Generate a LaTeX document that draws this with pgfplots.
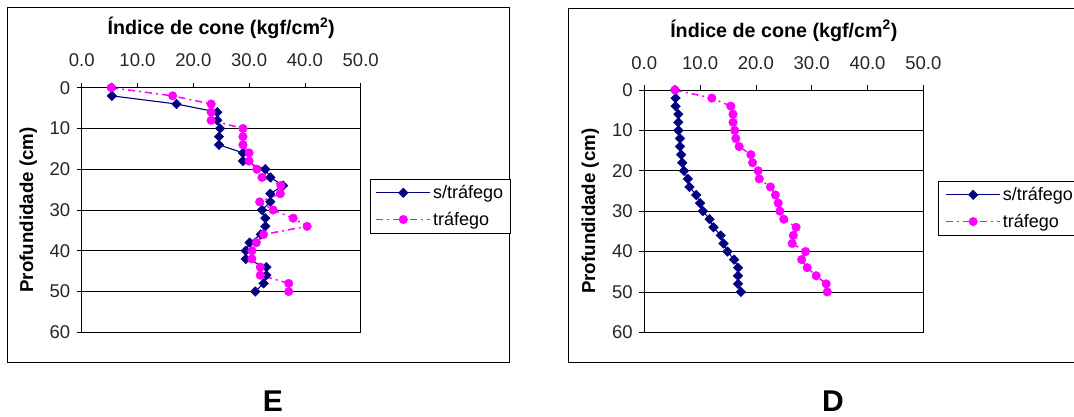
\documentclass[border=0pt]{standalone}
\usepackage{fontspec}
\setmainfont{Liberation Sans}
\usepackage{pgfplots}
\pgfplotsset{compat=1.18}
\definecolor{navy}{RGB}{0,0,128}
\definecolor{pinkm}{RGB}{255,0,255}

\pgfplotstableread{
d  v
0  5.4
2  5.4
4  17.0
6  24.3
8  24.3
10 24.8
12 24.6
14 24.6
16 28.9
18 28.9
20 32.9
22 33.8
24 36.1
26 33.8
28 33.8
30 32.3
32 32.9
34 32.9
36 32.1
38 30.1
40 29.4
42 29.4
44 33.1
46 33.1
48 32.6
50 31.1
}\Esem
\pgfplotstableread{
d  v
0  5.3
2  16.3
4  23.2
6  23.2
8  23.2
10 28.9
12 28.9
14 28.9
16 30.0
18 30.0
20 31.4
22 32.3
24 35.7
26 35.6
28 31.9
30 34.3
32 37.9
34 40.4
36 32.6
38 31.3
40 30.5
42 30.5
44 32.0
46 32.0
48 37.1
50 37.1
}\Ecom
\pgfplotstableread{
d  v
0  5.5
2  5.6
4  5.6
6  6.1
8  6.1
10 6.1
12 6.4
14 6.4
16 6.6
18 6.8
20 7.1
22 7.8
24 8.1
26 9.3
28 10.0
30 10.5
32 11.7
34 12.4
36 13.7
38 14.2
40 14.9
42 16.1
44 16.8
46 16.8
48 16.8
50 17.3
}\Dsem
\pgfplotstableread{
d  v
0  5.5
2  12.1
4  15.5
6  15.9
8  15.9
10 16.2
12 16.4
14 17.0
16 19.1
18 19.4
20 20.4
22 20.6
24 22.6
26 23.5
28 24.0
30 24.3
32 25.0
34 27.2
36 26.7
38 26.5
40 28.9
42 28.2
44 29.2
46 30.8
48 32.6
50 32.8
}\Dcom

\pgfplotsset{
  panel/.style={
    scale only axis, width=279pt,
    xmin=0, xmax=50, ymin=0, ymax=60, y dir=reverse,
    xtick={0,10,20,30,40,50},
    xticklabels={0.0,10.0,20.0,30.0,40.0,50.0},
    ytick={0,10,20,30,40,50,60},
    yticklabels={0,10,20,30,40,50,60},
    xtick pos=upper, xticklabel pos=upper,
    ytick pos=left, yticklabel pos=left,
    tick align=outside, major tick length=5pt,
    tick style={black, line width=0.8pt},
    axis line style={black, line width=0.8pt},
    ymajorgrids, grid style={black, line width=0.8pt},
    ticklabel style={font=\fontsize{18.5}{22}\selectfont, text=black!85},
    yticklabel style={xshift=-3pt},
    xticklabel style={yshift=12pt},
    every axis title shift=0pt,
    title style={font=\bfseries\fontsize{19.7}{23}\selectfont, anchor=base},
    ylabel style={font=\bfseries\fontsize{18.7}{22}\selectfont, anchor=base},
    title={Índice de cone (kgf/cm\textsuperscript{2})},
    ylabel={Profundidade (cm)},
    legend cell align=left,
    legend style={draw=black, line width=0.8pt, fill=white,
      font=\fontsize{18}{21}\selectfont, anchor=north west,
      inner ysep=4pt, row sep=8pt},
    legend image code/.code={\draw[mark repeat=2, mark phase=2, ##1] plot coordinates {(0pt,0pt) (27pt,0pt) (54pt,0pt)};},
  },
  sem/.style={navy, line width=1.1pt, mark=square*, mark size=3.4pt,
    mark options={rotate=45, solid, fill=navy, line width=0.4pt}},
  com/.style={pinkm, line width=1.5pt, dash pattern=on 7pt off 4pt on 2pt off 4pt,
    mark=*, mark size=4.3pt, mark options={solid, fill=pinkm, line width=0.4pt}},
}

\begin{document}
\begin{tikzpicture}
\clip (0,0) rectangle (1074pt,-416pt);
\fill[white] (0,0) rectangle (1074pt,-416pt);
\draw[black, line width=1pt] (7pt,-7pt) rectangle (509pt,-362pt);
\draw[black, line width=1pt] (568pt,-8pt) rectangle (1090pt,-362pt);

\begin{axis}[panel, height=244.6pt, at={(81.7pt,-87.7pt)}, anchor=north west,
  title style={at={(axis description cs:0.5,1.2155)}},
  ylabel style={at={(axis description cs:-0.1744,0.5)}},
  legend style={at={(axis description cs:1.0322,0.6267)}, inner xsep=5.5pt}]
\addplot[sem] table[x=v,y=d] {\Esem};
\addlegendentry{s/tráfego}
\addplot[com] table[x=v,y=d] {\Ecom};
\addlegendentry{tráfego}
\end{axis}

\begin{axis}[panel, height=242.3pt, at={(644.3pt,-90pt)}, anchor=north west,
  title style={at={(axis description cs:0.5,1.2175)}},
  ylabel style={at={(axis description cs:-0.1767,0.5)}},
  legend style={at={(axis description cs:1.0527,0.6244)}, inner xsep=7pt}]
\addplot[sem] table[x=v,y=d] {\Dsem};
\addlegendentry{s/tráfego}
\addplot[com] table[x=v,y=d] {\Dcom};
\addlegendentry{tráfego}
\end{axis}

\node[anchor=base, inner sep=0pt, text depth=0pt, font=\bfseries\fontsize{30}{34}\selectfont] at (273pt,-411pt) {E};
\node[anchor=base, inner sep=0pt, text depth=0pt, font=\bfseries\fontsize{30}{34}\selectfont] at (833pt,-411pt) {D};
\end{tikzpicture}
\end{document}
